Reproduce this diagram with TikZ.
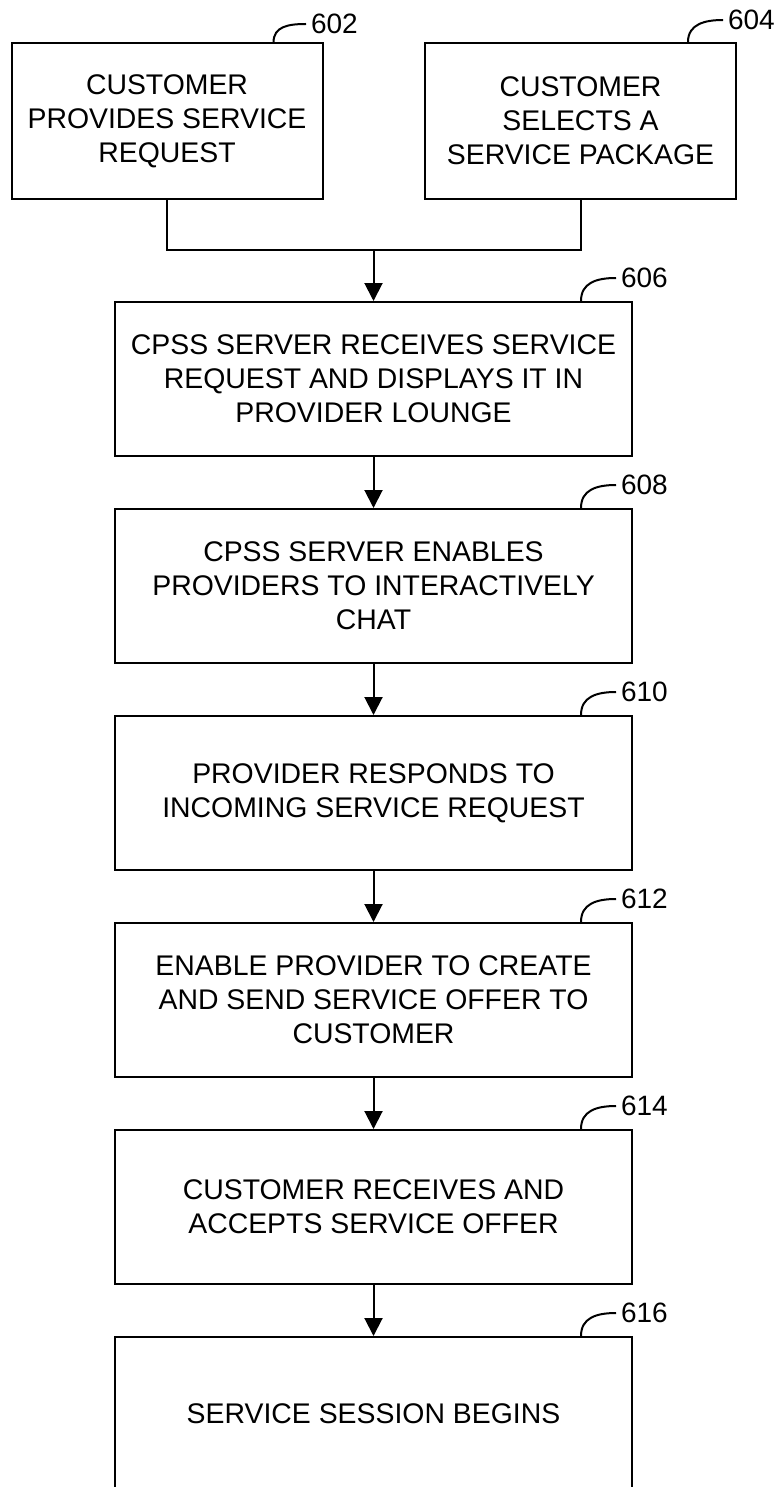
\documentclass[tikz,border=0pt]{standalone}
\usepackage{fontspec}
\setmainfont{Liberation Sans}
\usetikzlibrary{arrows.meta}

\begin{document}
\begin{tikzpicture}[x=0.5pt,y=-0.5pt,line width=1pt,
	box/.style={draw, rectangle, align=center, inner sep=0pt, minimum width=258.5pt, minimum height=77pt, font=\fontsize{14.2pt}{17pt}\selectfont},
	topbox/.style={box, minimum width=155.5pt, minimum height=78pt},
	lbl/.style={anchor=west, inner sep=2pt, font=\fontsize{14pt}{16pt}\selectfont},
	arr/.style={-{Triangle[width=9pt,length=9pt]}}]
	\useasboundingbox (0,0) rectangle (775,1487);
	% top row
	\node (b602) at (167, 121.5)	[topbox]	{CUSTOMER\\PROVIDES SERVICE\\REQUEST};
	\node (b604) at (580.5, 121)	[topbox]	{CUSTOMER\\SELECTS A\\SERVICE PACKAGE};
	\node (l602) at (306, 24)	[lbl]	{602};
	\node (l604) at (723, 20)	[lbl]	{604};
	\draw ([shift={(-50,0)}]b602.north east) .. controls +(0,-16) and +(-18,0) .. (l602.west);
	\draw ([shift={(-49,0)}]b604.north east) .. controls +(0,-18) and +(-18,0) .. (l604.west);
	% main column
	\node (b606) at (373.5, 379)	[box]	{CPSS SERVER RECEIVES SERVICE\\REQUEST AND DISPLAYS IT IN\\PROVIDER LOUNGE};
	\node (b608) at (373.5, 586)	[box]	{CPSS SERVER ENABLES\\PROVIDERS TO INTERACTIVELY\\CHAT};
	\node (b610) at (373.5, 793)	[box]	{PROVIDER RESPONDS TO\\INCOMING SERVICE REQUEST};
	\node (b612) at (373.5, 1000)	[box]	{ENABLE PROVIDER TO CREATE\\AND SEND SERVICE OFFER TO\\CUSTOMER};
	\node (b614) at (373.5, 1207)	[box]	{CUSTOMER RECEIVES AND\\ACCEPTS SERVICE OFFER};
	\node (b616) at (373.5, 1414)	[box]	{SERVICE SESSION BEGINS};
	\foreach \n in {606,608,610,612,614,616}{
		\node (l\n) at ([shift={(-17,-23)}]b\n.north east)	[lbl]	{\n};
		\draw ([shift={(-52,0)}]b\n.north east) .. controls +(0,-18) and +(-20,0) .. (l\n.west);
	}
	% connectors
	\coordinate (join) at (373.5, 250);
	\draw (b602.south) |- (join) -| (b604.south);
	\draw[arr] (join) -- (b606.north);
	\draw[arr] (b606) -- (b608);
	\draw[arr] (b608) -- (b610);
	\draw[arr] (b610) -- (b612);
	\draw[arr] (b612) -- (b614);
	\draw[arr] (b614) -- (b616);
\end{tikzpicture}
\end{document}
